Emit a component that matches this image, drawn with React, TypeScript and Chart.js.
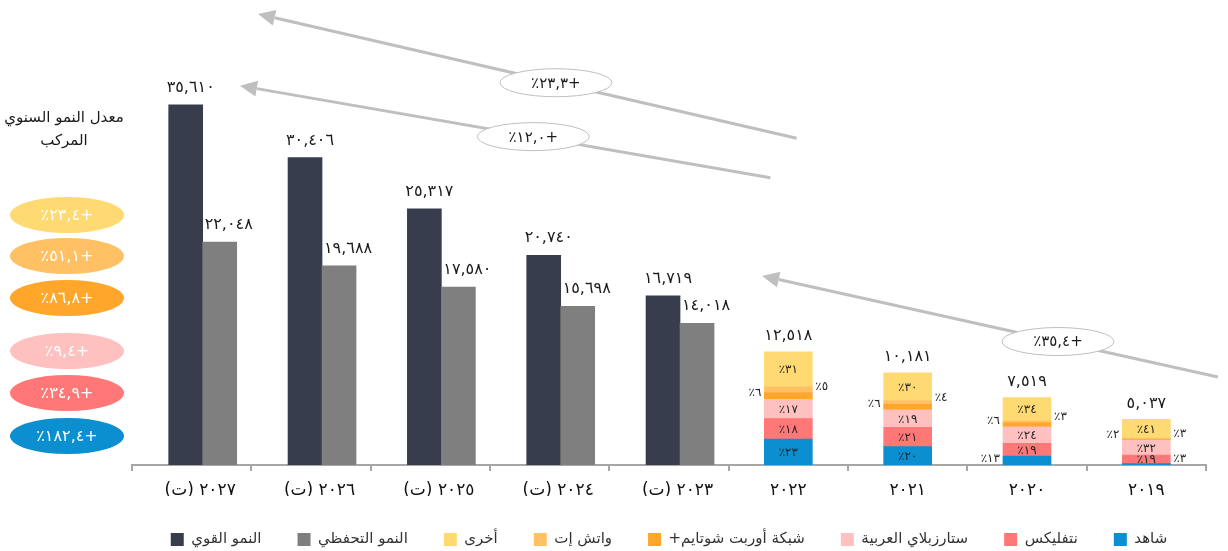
import { useEffect, useRef } from 'react';
import { Chart, registerables } from 'chart.js';

Chart.register(...registerables);

// ---------- data ----------
const categories = ['٢٠٢٧ (ت)', '٢٠٢٦ (ت)', '٢٠٢٥ (ت)', '٢٠٢٤ (ت)', '٢٠٢٣ (ت)', '٢٠٢٢', '٢٠٢١', '٢٠٢٠', '٢٠١٩'];
const strongGrowth = [35610, 30406, 25317, 20740, 16719, null, null, null, null];
const conservativeGrowth = [22048, 19688, 17580, 15698, 14018, null, null, null, null];
const marketTotals = [null, null, null, null, null, 12518, 10181, 7519, 5037];
const shahidShare = [null, null, null, null, null, 23, 20, 13, 3];
const netflixShare = [null, null, null, null, null, 18, 21, 19, 19];
const starzplayShare = [null, null, null, null, null, 17, 19, 24, 32];
const osnShare = [null, null, null, null, null, 6, 6, 6, 2];
const watchitShare = [null, null, null, null, null, 5, 4, 3, 3];
const otherShare = [null, null, null, null, null, 31, 30, 34, 41];
// CAGR per platform, same order as the share series (شاهد ... أخرى)
const platformCagr = ['+١٨٢,٤٪', '+٣٤,٩٪', '+٩,٤٪', '+٨٦,٨٪', '+٥١,١٪', '+٢٣,٤٪'];
const trendCagr = ['+٢٣,٣٪', '+١٢,٠٪', '+٣٥,٤٪'];
const panelTitle = ['معدل النمو السنوي', 'المركب'];

// ---------- styles ----------
const FONT = '"DejaVu Sans", sans-serif';
const shareSeries = [
  { name: 'شاهد', share: shahidShare, color: '#0B8FD1', side: 'left' },
  { name: 'نتفليكس', share: netflixShare, color: '#FF7777', side: 'left' },
  { name: 'ستارزبلاي العربية', share: starzplayShare, color: '#FFC0C0', side: 'left' },
  { name: 'شبكة أوربت شوتايم+', share: osnShare, color: '#FFA62B', side: 'left' },
  { name: 'واتش إت', share: watchitShare, color: '#FFC163', side: 'right' },
  { name: 'أخرى', share: otherShare, color: '#FFDA72', side: 'right' },
];
// the last category's شاهد label sits on the right
const sideOverride: Record<string, string> = { '0-8': 'right' };
// horizontal placement of the forecast bars, in category units from the category centre
const STRONG_SHIFT = -0.05;
const CONS_SHIFT = 0.235;

// trend arrows, expressed in scale units (category index, value on y)
const trendArrows = [
  { label: trendCagr[0], tail: [5.07, 32300], tip: [0.556, 44600], at: 0.447 },
  { label: trendCagr[1], tail: [4.85, 28400], tip: [0.405, 37500], at: 0.447 },
  { label: trendCagr[2], tail: [8.6, 8700], tip: [4.78, 18700], at: 0.351 },
];
const panelEllipseY = [215, 256, 298, 351, 393, 436];

const toArabicDigits = (s: string) => s.replace(/[0-9]/g, (d) => '٠١٢٣٤٥٦٧٨٩'[+d]);
const fmt = (n: number) => toArabicDigits(Math.round(n).toLocaleString('en-US'));

const segment = (share: (number | null)[]) =>
  marketTotals.map((t, i) => (t == null || share[i] == null ? null : (t * (share[i] as number)) / 100));
const forecastPoints = (vals: (number | null)[]) =>
  vals.map((v, i) => ({ x: i, y: v })).filter((p) => p.y != null);
const shiftedAxis = (shift: number) => ({
  type: 'linear',
  display: false,
  offset: false,
  bounds: 'data',
  min: -0.5 - shift,
  max: categories.length - 0.5 - shift,
});

const drawEllipseLabel = (ctx: CanvasRenderingContext2D, x: number, y: number, rx: number, ry: number, fill: string, stroke: string | null, text: string, color: string, size: number) => {
  ctx.beginPath();
  ctx.ellipse(x, y, rx, ry, 0, 0, Math.PI * 2);
  ctx.fillStyle = fill;
  ctx.fill();
  if (stroke) {
    ctx.lineWidth = 1;
    ctx.strokeStyle = stroke;
    ctx.stroke();
  }
  ctx.fillStyle = color;
  ctx.font = `${size}px ${FONT}`;
  ctx.textAlign = 'center';
  ctx.textBaseline = 'middle';
  ctx.fillText(text, x, y + 1);
};

const labelPlugin = {
  id: 'valueLabels',
  afterDatasetsDraw(chart: any) {
    const ctx: CanvasRenderingContext2D = chart.ctx;
    ctx.save();
    ctx.direction = 'rtl';
    ctx.textBaseline = 'middle';
    chart.data.datasets.forEach((ds: any, di: number) => {
      const meta = chart.getDatasetMeta(di);
      if (ds.stack !== 'market') {
        ctx.font = `16px ${FONT}`;
        ctx.fillStyle = '#1a1a1a';
        ctx.textAlign = 'center';
        const dx = ds.stack === 'strong' ? 5 : 9;
        meta.data.forEach((el: any, i: number) => {
          const p = ds.data[i];
          if (!p || p.y == null) return;
          ctx.fillText(fmt(p.y), el.x + dx, el.y - 17);
        });
        return;
      }
      const series = shareSeries[di];
      meta.data.forEach((el: any, i: number) => {
        const p = series.share[i];
        if (p == null) return;
        const top = el.y;
        const base = el.base;
        const mid = (top + base) / 2;
        const text = toArabicDigits(String(p)) + '٪';
        ctx.fillStyle = '#262626';
        ctx.font = `12px ${FONT}`;
        if (p >= 15) {
          ctx.textAlign = 'center';
          ctx.fillText(text, el.x, mid + 1);
        } else {
          const side = sideOverride[`${di}-${i}`] || series.side;
          const y = Math.min(mid, base - 6);
          if (side === 'left') {
            ctx.textAlign = 'right';
            ctx.fillText(text, el.x - el.width / 2 - 3, y);
          } else {
            ctx.textAlign = 'left';
            ctx.fillText(text, el.x + el.width / 2 + 3, y);
          }
        }
        if (di === shareSeries.length - 1) {
          ctx.font = `16px ${FONT}`;
          ctx.fillStyle = '#1a1a1a';
          ctx.textAlign = 'center';
          ctx.fillText(fmt(marketTotals[i] as number), el.x, top - 16);
        }
      });
    });
    ctx.restore();
  },
  afterDraw(chart: any) {
    const ctx: CanvasRenderingContext2D = chart.ctx;
    const xs = chart.scales.x;
    const ys = chart.scales.y;
    ctx.save();
    ctx.direction = 'rtl';
    // trend arrows
    trendArrows.forEach((a) => {
      const x1 = xs.getPixelForValue(a.tail[0]);
      const y1 = ys.getPixelForValue(a.tail[1]);
      const x2 = xs.getPixelForValue(a.tip[0]);
      const y2 = ys.getPixelForValue(a.tip[1]);
      const ang = Math.atan2(y2 - y1, x2 - x1);
      const headLen = 17;
      const headW = 8;
      const bx = x2 - headLen * Math.cos(ang);
      const by = y2 - headLen * Math.sin(ang);
      ctx.strokeStyle = '#BFBFBF';
      ctx.lineWidth = 3;
      ctx.beginPath();
      ctx.moveTo(x1, y1);
      ctx.lineTo(bx, by);
      ctx.stroke();
      ctx.fillStyle = '#BFBFBF';
      ctx.beginPath();
      ctx.moveTo(x2, y2);
      ctx.lineTo(bx + headW * Math.sin(ang), by - headW * Math.cos(ang));
      ctx.lineTo(bx - headW * Math.sin(ang), by + headW * Math.cos(ang));
      ctx.closePath();
      ctx.fill();
      const ex = x1 + (x2 - x1) * a.at;
      const ey = y1 + (y2 - y1) * a.at;
      drawEllipseLabel(ctx, ex, ey, 56, 14, '#FFFFFF', '#BFBFBF', a.label, '#1a1a1a', 15);
    });
    // left panel
    const cx = chart.chartArea.left / 2;
    ctx.fillStyle = '#1a1a1a';
    ctx.font = `15px ${FONT}`;
    ctx.textAlign = 'center';
    ctx.textBaseline = 'middle';
    panelTitle.forEach((t, i) => ctx.fillText(t, cx - 2, 118 + i * 23));
    const n = shareSeries.length;
    for (let k = 0; k < n; k++) {
      const s = shareSeries[n - 1 - k];
      drawEllipseLabel(ctx, cx + 1, panelEllipseY[k], 57, 18, s.color, null, platformCagr[n - 1 - k], '#FFFFFF', 16);
    }
    ctx.restore();
  },
};

export default function App() {
  const ref = useRef<HTMLCanvasElement | null>(null);
  useEffect(() => {
    if (!ref.current) return;
    const datasets: any[] = [
      ...shareSeries.map((s) => ({
        label: s.name,
        data: segment(s.share),
        backgroundColor: s.color,
        stack: 'market',
        xAxisID: 'x',
        yAxisID: 'y2',
        barThickness: 48,
        grouped: false,
      })),
      { label: 'النمو التحفظي', data: forecastPoints(conservativeGrowth), backgroundColor: '#7F7F7F', stack: 'cons', xAxisID: 'xc', yAxisID: 'y', barThickness: 34, grouped: false },
      { label: 'النمو القوي', data: forecastPoints(strongGrowth), backgroundColor: '#373D4C', stack: 'strong', xAxisID: 'xs', yAxisID: 'y', barThickness: 34, grouped: false },
    ];
    const chart = new Chart(ref.current, {
      type: 'bar',
      data: { labels: categories, datasets },
      plugins: [labelPlugin],
      options: {
        responsive: false,
        animation: false,
        layout: { padding: { left: 132, right: 22, top: 20, bottom: 0 } },
        plugins: {
          legend: {
            position: 'bottom',
            rtl: false,
            textDirection: 'rtl',
            maxHeight: 55,
            labels: {
              boxWidth: 13,
              boxHeight: 13,
              padding: 36,
              color: '#333333',
              font: { size: 15, family: FONT },
              sort: (a: any, b: any) => b.datasetIndex - a.datasetIndex,
            },
          } as any,
          tooltip: { enabled: false },
        },
        scales: {
          x: {
            grid: { drawOnChartArea: false, color: '#A6A6A6', lineWidth: 2, tickLength: 6, offset: true },
            border: { color: '#A6A6A6', width: 2 },
            ticks: {
              color: '#111111',
              font: { size: 17, family: FONT },
              padding: 9,
              maxRotation: 0,
              autoSkip: false,
              callback: (_v: any, i: number) => categories[i] + (strongGrowth[i] != null ? '\u2003' : ''),
            },
            afterFit: (s: any) => {
              s.height = 31;
            },
          } as any,
          xs: shiftedAxis(STRONG_SHIFT) as any,
          xc: shiftedAxis(CONS_SHIFT) as any,
          y: { display: false, min: 0, max: 44000 },
          y2: { display: false, min: 0, max: 49200, stacked: true },
        },
      },
    });
    return () => chart.destroy();
  }, []);
  return (
    <canvas
      ref={ref}
      width={1228}
      height={551}
      dir="rtl"
      style={{ position: 'fixed', left: 0, top: 0, width: 1228, height: 551, display: 'block' }}
    />
  );
}
